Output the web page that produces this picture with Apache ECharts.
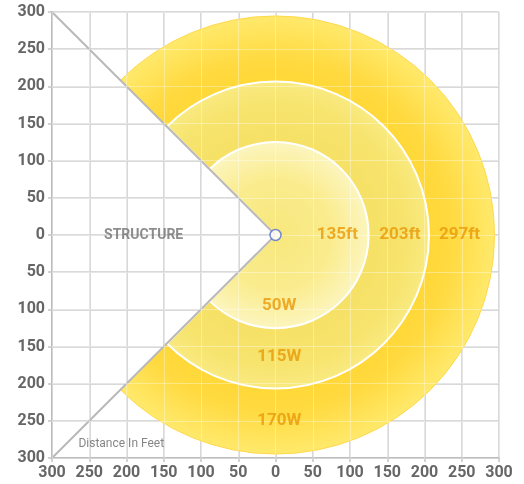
<!DOCTYPE html>
<html><head><meta charset="utf-8">
<script src="https://cdn.jsdelivr.net/npm/echarts@6/dist/echarts.min.js"></script>
<style>html,body{margin:0;padding:0;background:#fff}#c{width:524px;height:484px}</style>
</head><body><div id="c"></div>
<script>
// ---- data ----
const axisTicks = [-300,-250,-200,-150,-100,-50,0,50,100,150,200,250,300];
const radii = [294, 206, 125];
const distLabels = ['297ft', '203ft', '135ft'];
const distLabelX = [247, 167, 83];
const wattLabels = ['170W', '115W', '50W'];
const wattLabelY = [-250, -164, -95];
const wedgeHalfAngleDeg = 135;
const structureLine = [[-300, 300], [0, 0], [-300, -300]];
const structureLabel = {text: 'STRUCTURE', x: -177, y: 0};
const noteLabel = {text: 'Distance In Feet', x: -207, y: -281};

const ringFills = [
  [[0.6, '#FFD52F'], [0.8, '#FFDA40'], [1, '#FFE96C']],
  [[0.55, '#F6E064'], [0.85, '#F7E46E'], [1, '#F9EA80']],
  [[0, '#F8E77C'], [0.6, '#FAEC8E'], [1, '#FCF5BE']]
];
const ringStroke = ['#FFD84A', '#FFFFFF', '#FFFFFF'];

const chart = echarts.init(document.getElementById('c'), null, {renderer: 'canvas'});
const rad = wedgeHalfAngleDeg * Math.PI / 180;

const baseAxis = {
  type: 'value', min: axisTicks[0], max: axisTicks[axisTicks.length - 1], interval: 50,
  axisLine: {show: true, onZero: false, lineStyle: {color: '#bdbdbd', width: 2}},
  axisTick: {show: true, length: 4, lineStyle: {color: '#c4c4c4', width: 1.5}},
  axisLabel: {formatter: v => String(Math.abs(v)), color: '#666666', fontFamily: 'Roboto', fontWeight: 'bold', fontSize: 16, margin: 7},
  splitLine: {show: true, lineStyle: {color: '#cccccc', width: 1.5}}
};
const overlayAxis = {
  type: 'value', min: axisTicks[0], max: axisTicks[axisTicks.length - 1], interval: 50, z: 10,
  axisLine: {show: false}, axisTick: {show: false}, axisLabel: {show: false},
  splitLine: {show: true, lineStyle: {color: 'rgba(255,255,255,0.35)', width: 1}}
};

const textLabel = (color, size, weight) => ({show: true, position: 'inside', formatter: p => p.name, color: color, fontFamily: 'Roboto', fontWeight: weight, fontSize: size});

chart.setOption({
  animation: false,
  grid: {left: 52, right: 25, top: 12, bottom: 26, containLabel: false},
  xAxis: [Object.assign({}, baseAxis), Object.assign({}, overlayAxis)],
  yAxis: [Object.assign({}, baseAxis), Object.assign({}, overlayAxis)],
  series: [
    {
      type: 'custom', z: 2,
      data: radii.map((r, i) => [r, i]),
      renderItem: function (params, api) {
        const r = api.value(0), i = api.value(1);
        const c = api.coord([0, 0]);
        const pr = api.size([r, 0])[0];
        return {
          type: 'sector',
          shape: {cx: c[0], cy: c[1], r0: 0, r: pr, startAngle: -rad, endAngle: rad, clockwise: true},
          style: {
            fill: new echarts.graphic.RadialGradient(c[0], c[1], pr,
              ringFills[i].map(s => ({offset: s[0], color: s[1]})), true),
            stroke: ringStroke[i], lineWidth: i === 0 ? 1 : 2
          }
        };
      }
    },
    {
      type: 'line', z: 5, data: structureLine, symbol: 'none',
      lineStyle: {color: '#b9b9b9', width: 2}
    },
    {
      type: 'scatter', z: 12, data: [[0, 0]], symbol: 'circle', symbolSize: 11,
      itemStyle: {color: '#ffffff', borderColor: '#4f6fd0', borderWidth: 1.5}
    },
    {
      type: 'scatter', z: 11, symbolSize: 0,
      data: distLabels.map((t, i) => ({value: [distLabelX[i], 0], name: t})),
      label: textLabel('#E99808', 17, 'bold')
    },
    {
      type: 'scatter', z: 11, symbolSize: 0,
      data: wattLabels.map((t, i) => ({value: [5, wattLabelY[i]], name: t})),
      label: textLabel('#E99808', 17, 'bold')
    },
    {
      type: 'scatter', z: 11, symbolSize: 0,
      data: [{value: [structureLabel.x, structureLabel.y], name: structureLabel.text}],
      label: textLabel('#707070', 14, 'bold')
    },
    {
      type: 'scatter', z: 11, symbolSize: 0,
      data: [{value: [noteLabel.x, noteLabel.y], name: noteLabel.text}],
      label: textLabel('#666666', 12, 'normal')
    }
  ]
});
</script></body></html>
